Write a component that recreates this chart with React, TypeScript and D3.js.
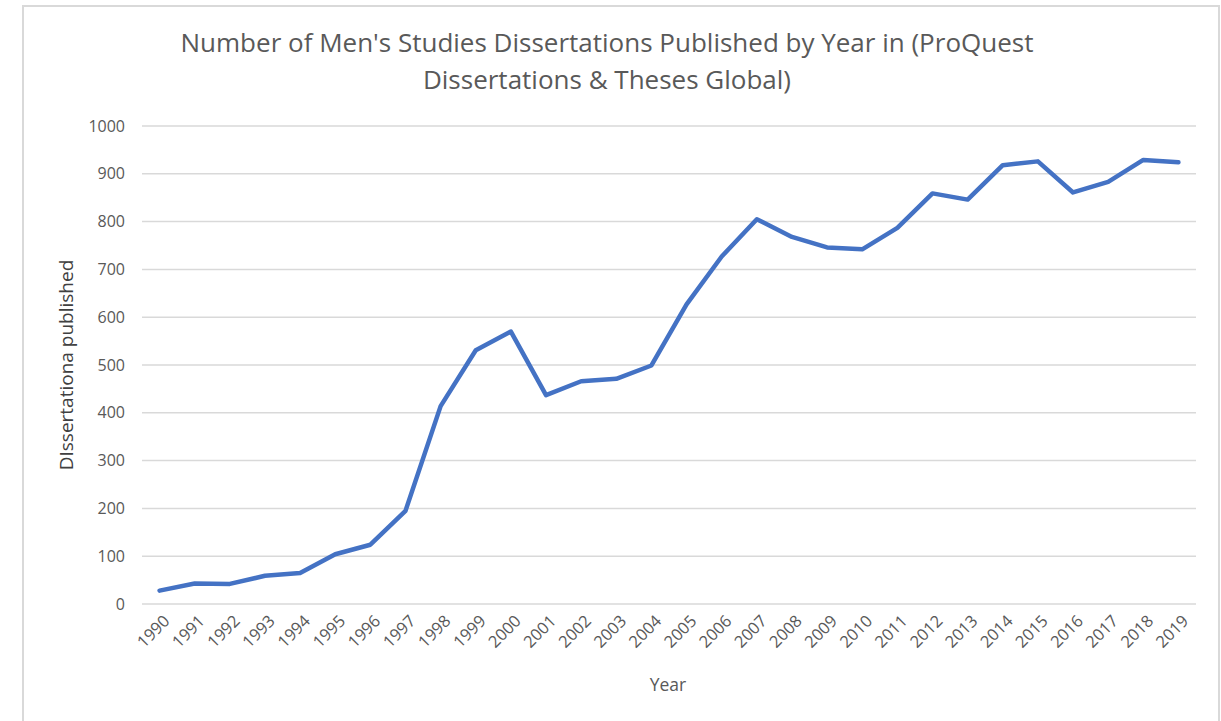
import React, { useEffect, useRef } from 'react';
import * as d3 from 'd3';

const years = [
  '1990', '1991', '1992', '1993', '1994', '1995', '1996', '1997', '1998', '1999',
  '2000', '2001', '2002', '2003', '2004', '2005', '2006', '2007', '2008', '2009',
  '2010', '2011', '2012', '2013', '2014', '2015', '2016', '2017', '2018', '2019',
];
const counts = [
  28, 43, 42, 59, 65, 104, 124, 195, 414, 531,
  570, 437, 466, 471, 499, 627, 727, 805, 768, 746,
  742, 787, 859, 846, 918, 926, 861, 883, 929, 924,
];
const yTicks = [0, 100, 200, 300, 400, 500, 600, 700, 800, 900, 1000];

const titleLines = [
  "Number of Men's Studies Dissertations Published by Year in (ProQuest",
  'Dissertations & Theses Global)',
];

const App: React.FC = () => {
  const svgRef = useRef<SVGSVGElement>(null);

  useEffect(() => {
    if (!svgRef.current) return;
    const svg = d3.select(svgRef.current);
    svg.selectAll('*').remove();

    const W = 1221;
    const H = 721;
    const margin = { top: 126, right: 25, bottom: 117, left: 142 };
    const font = '"Open Sans", sans-serif';

    // chart frame
    svg.append('rect')
      .attr('x', 23).attr('y', 6)
      .attr('width', 1196).attr('height', H + 20)
      .attr('fill', '#fff')
      .attr('stroke', '#d9d9d9')
      .attr('stroke-width', 2);

    const x = d3.scaleBand()
      .domain(years)
      .range([margin.left, W - margin.right]);

    const y = d3.scaleLinear()
      .domain([0, 1000])
      .range([H - margin.bottom, margin.top]);

    // gridlines
    svg.append('g')
      .selectAll('line')
      .data(yTicks)
      .enter()
      .append('line')
      .attr('x1', margin.left)
      .attr('x2', W - margin.right)
      .attr('y1', d => y(d))
      .attr('y2', d => y(d))
      .attr('stroke', '#d9d9d9')
      .attr('stroke-width', 1.5);

    // y tick labels
    svg.append('g')
      .selectAll('text')
      .data(yTicks)
      .enter()
      .append('text')
      .attr('x', 125)
      .attr('y', d => y(d))
      .attr('dy', '0.35em')
      .attr('text-anchor', 'end')
      .attr('fill', '#595959')
      .style('font-family', font)
      .style('font-size', '16px')
      .text(d => d);

    // x tick labels, rotated
    svg.append('g')
      .selectAll('text')
      .data(years)
      .enter()
      .append('text')
      .attr('transform', d => `translate(${x(d)! + x.bandwidth() / 2 + 7},${H - margin.bottom + 14}) rotate(-45)`)
      .attr('text-anchor', 'end')
      .attr('dy', '0.35em')
      .attr('fill', '#595959')
      .style('font-family', font)
      .style('font-size', '16.5px')
      .text(d => d);

    // line
    const line = d3.line<number>()
      .x((_, i) => x(years[i])! + x.bandwidth() / 2)
      .y(d => y(d));

    svg.append('path')
      .datum(counts)
      .attr('d', line)
      .attr('fill', 'none')
      .attr('stroke', '#4472c4')
      .attr('stroke-width', 4.5)
      .attr('stroke-linejoin', 'round')
      .attr('stroke-linecap', 'round');

    // title
    svg.append('g')
      .selectAll('text')
      .data(titleLines)
      .enter()
      .append('text')
      .attr('x', 607)
      .attr('y', (_, i) => 43 + i * 37)
      .attr('dy', '0.35em')
      .attr('text-anchor', 'middle')
      .attr('fill', '#595959')
      .style('font-family', font)
      .style('font-size', '26px')
      .text(d => d);

    // axis titles
    svg.append('text')
      .attr('transform', 'translate(66,365) rotate(-90)')
      .attr('text-anchor', 'middle')
      .attr('dy', '0.35em')
      .attr('fill', '#404040')
      .style('font-family', font)
      .style('font-size', '19px')
      .text('DIssertationa published');

    svg.append('text')
      .attr('x', 668)
      .attr('y', 685)
      .attr('dy', '0.35em')
      .attr('text-anchor', 'middle')
      .attr('fill', '#595959')
      .style('font-family', font)
      .style('font-size', '17.5px')
      .text('Year');
  }, []);

  return (
    <div style={{ position: 'absolute', left: 0, top: 0 }}>
      <svg ref={svgRef} width={1221} height={721} style={{ display: 'block' }} />
    </div>
  );
};

export default App;
